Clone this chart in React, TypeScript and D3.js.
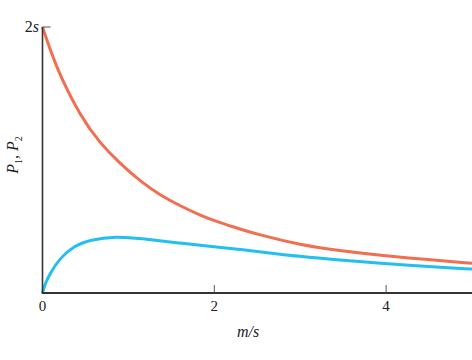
import React from "react";
import * as d3 from "d3";

const xTicks = [0, 2, 4];
const redX = [0, 0.1, 0.2, 0.44, 0.67, 0.9, 1.134, 1.366, 1.6, 1.83, 2.06, 2.3, 2.53, 3, 3.46, 3.92, 4.5, 5];
const redY = [2.0, 1.81, 1.64, 1.33, 1.125, 0.975, 0.842, 0.737, 0.656, 0.586, 0.529, 0.481, 0.436, 0.362, 0.318, 0.284, 0.25, 0.223];
const blueX = [0, 0.03, 0.09, 0.2, 0.36, 0.55, 0.86, 1.134, 1.6, 2.06, 2.3, 2.53, 3, 3.46, 3.92, 4.5, 5];
const blueY = [0, 0.07, 0.15, 0.26, 0.35, 0.4, 0.427, 0.411, 0.374, 0.344, 0.328, 0.31, 0.274, 0.247, 0.223, 0.199, 0.18];

const W = 472;
const H = 360;
const x = d3.scaleLinear().domain([0, 5]).range([42.5, 472]);
const y = d3.scaleLinear().domain([0, 2]).range([293, 27]);

const line = d3
  .line<[number, number]>()
  .x((d) => x(d[0]))
  .y((d) => y(d[1]))
  .curve(d3.curveBasis);

const redPts = redX.map((v, i) => [v, redY[i]] as [number, number]);
const bluePts = blueX.map((v, i) => [v, blueY[i]] as [number, number]);

const font = "'Liberation Serif', 'DejaVu Serif', serif";

export default function App() {
  return (
    <svg
      width={W}
      height={H}
      style={{ position: "absolute", left: 0, top: 0, background: "#fff" }}
    >
      <path d={line(redPts) || ""} fill="none" stroke="#F26E50" strokeWidth={3} />
      <path d={line(bluePts) || ""} fill="none" stroke="#22BFF0" strokeWidth={3} />
      {/* axes */}
      <line x1={x(0)} x2={x(0)} y1={y(2)} y2={y(0)} stroke="#333" strokeWidth={1.6} />
      <line x1={x(0) - 0.8} x2={W} y1={y(0)} y2={y(0)} stroke="#333" strokeWidth={1.8} />
      <line x1={x(0)} x2={x(0) + 8} y1={y(2)} y2={y(2)} stroke="#555" strokeWidth={1} />
      {xTicks.filter((t) => t > 0).map((t) => (
        <line key={t} x1={x(t)} x2={x(t)} y1={y(0)} y2={y(0) - 8} stroke="#555" strokeWidth={1} />
      ))}
      {xTicks.map((t) => (
        <text
          key={"l" + t}
          x={x(t)}
          y={311}
          textAnchor="middle"
          fontFamily={font}
          fontSize={15}
          fill="#222"
        >
          {t}
        </text>
      ))}
      <text x={39} y={32} textAnchor="end" fontFamily={font} fontSize={16} fill="#222">
        2<tspan fontStyle="italic">s</tspan>
      </text>
      <text x={248} y={337} textAnchor="middle" fontFamily={font} fontSize={16} fontStyle="italic" fill="#222">
        m/s
      </text>
      <text
        transform="translate(18,155) rotate(-90)"
        textAnchor="middle"
        fontFamily={font}
        fontSize={16}
        fontStyle="italic"
        fill="#222"
      >
        P<tspan fontSize={10} dy={4} fontStyle="normal">1</tspan>
        <tspan dy={-4}>, P</tspan>
        <tspan fontSize={10} dy={4} fontStyle="normal">2</tspan>
      </text>
    </svg>
  );
}
